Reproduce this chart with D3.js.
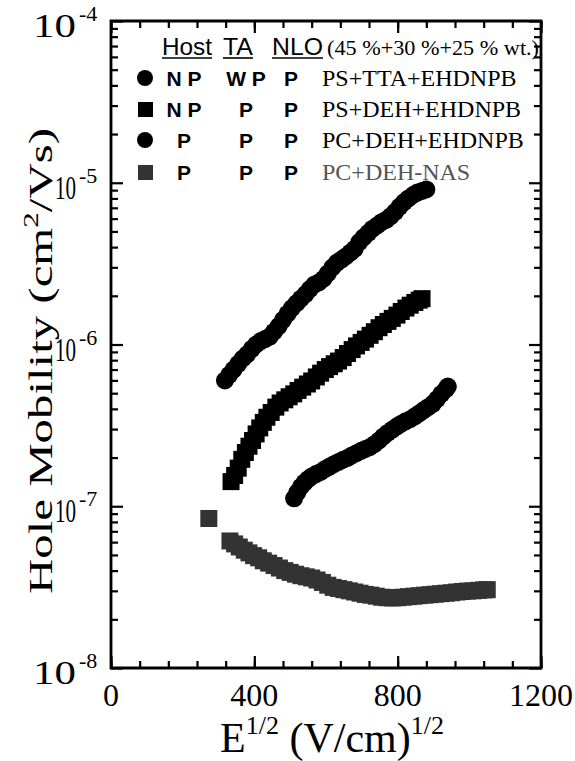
<!DOCTYPE html>
<html>
<head>
<meta charset="utf-8">
<script src="https://cdn.jsdelivr.net/npm/d3@7"></script>
<style>
  body { margin: 0; background: #fff; }
  svg { display: block; }
</style>
</head>
<body>
<div id="chart"></div>
<script>
// Set chart dimensions
const width = 575;
const height = 761;
const margin = { top: 21, right: 34, bottom: 93, left: 111 };
const innerW = width - margin.left - margin.right;
const innerH = height - margin.top - margin.bottom;
const serif = "Liberation Serif, Times New Roman, serif";
const sans = "Liberation Sans, Arial, sans-serif";

// PS+TTA+EHDNPB (circles)
const psTtaE = [318, 330, 342, 355, 368, 380, 393, 405, 418, 430, 443, 455, 468, 480, 493, 505, 518, 530, 543, 555,
  568, 580, 593, 605, 618, 630, 643, 655, 668, 680, 693, 705, 718, 730, 743, 755, 768, 780, 793, 805, 818, 830, 843, 855, 868, 880];
const psTtaMu = [6.0e-7, 6.5e-7, 7.0e-7, 7.6e-7, 8.2e-7, 8.7e-7, 9.4e-7, 1.0e-6, 1.05e-6, 1.08e-6, 1.12e-6, 1.2e-6, 1.3e-6, 1.42e-6, 1.55e-6, 1.68e-6, 1.8e-6, 1.92e-6, 2.05e-6, 2.2e-6,
  2.35e-6, 2.42e-6, 2.55e-6, 2.75e-6, 3.0e-6, 3.2e-6, 3.35e-6, 3.5e-6, 3.7e-6, 3.9e-6, 4.3e-6, 4.6e-6, 4.9e-6, 5.2e-6, 5.45e-6, 5.7e-6, 5.9e-6, 6.2e-6, 6.6e-6, 7.1e-6, 7.6e-6, 8.0e-6, 8.4e-6, 8.7e-6, 8.9e-6, 9.1e-6];

// PS+DEH+EHDNPB (squares)
const psDehE = [335, 345, 355, 365, 375, 385, 395, 405, 415, 425, 435, 447, 460, 472, 485, 497, 510, 522, 535, 548,
  560, 573, 585, 598, 610, 623, 635, 648, 660, 673, 685, 698, 710, 723, 735, 748, 760, 773, 785, 798, 810, 823, 835, 848, 860, 868];
const psDehMu = [1.42e-7, 1.55e-7, 1.72e-7, 1.95e-7, 2.15e-7, 2.35e-7, 2.55e-7, 2.8e-7, 3.05e-7, 3.3e-7, 3.55e-7, 3.8e-7, 4.1e-7, 4.35e-7, 4.55e-7, 4.75e-7, 4.95e-7, 5.2e-7, 5.45e-7, 5.7e-7,
  5.95e-7, 6.3e-7, 6.65e-7, 7.0e-7, 7.3e-7, 7.6e-7, 7.9e-7, 8.3e-7, 8.8e-7, 9.3e-7, 9.8e-7, 1.03e-6, 1.08e-6, 1.14e-6, 1.2e-6, 1.27e-6, 1.33e-6, 1.39e-6, 1.45e-6, 1.52e-6, 1.6e-6, 1.68e-6, 1.75e-6, 1.82e-6, 1.88e-6, 1.92e-6];

// PC+DEH+EHDNPB (circles)
const pcDehE = [511, 520, 530, 540, 550, 560, 572, 585, 598, 610, 622, 635, 648, 660, 672, 685, 698, 710, 722, 735,
  748, 760, 772, 785, 798, 810, 822, 835, 848, 860, 872, 885, 898, 910, 922, 935, 940];
const pcDehMu = [1.12e-7, 1.22e-7, 1.32e-7, 1.4e-7, 1.47e-7, 1.53e-7, 1.58e-7, 1.63e-7, 1.7e-7, 1.76e-7, 1.82e-7, 1.88e-7, 1.94e-7, 1.99e-7, 2.06e-7, 2.13e-7, 2.2e-7, 2.26e-7, 2.32e-7, 2.42e-7,
  2.55e-7, 2.7e-7, 2.84e-7, 2.98e-7, 3.12e-7, 3.24e-7, 3.35e-7, 3.45e-7, 3.6e-7, 3.75e-7, 3.92e-7, 4.1e-7, 4.3e-7, 4.6e-7, 4.95e-7, 5.3e-7, 5.5e-7];

// PC+DEH+NAS (grey squares)
const pcNasE = [273, 332, 345, 358, 372, 385, 398, 412, 425, 440, 455, 470, 485, 500, 515, 530, 545, 560, 575, 590,
  605, 620, 635, 650, 665, 680, 695, 710, 725, 740, 755, 770, 785, 800, 815, 830, 845, 860, 875, 890,
  905, 920, 935, 950, 965, 980, 995, 1010, 1025, 1040, 1050];
const pcNasMu = [8.4e-8, 6.1e-8, 5.85e-8, 5.6e-8, 5.35e-8, 5.15e-8, 4.95e-8, 4.8e-8, 4.6e-8, 4.45e-8, 4.3e-8, 4.15e-8, 4.0e-8, 3.9e-8, 3.8e-8, 3.72e-8, 3.66e-8, 3.6e-8, 3.5e-8, 3.38e-8,
  3.25e-8, 3.15e-8, 3.1e-8, 3.05e-8, 3.0e-8, 2.95e-8, 2.9e-8, 2.85e-8, 2.82e-8, 2.78e-8, 2.74e-8, 2.72e-8, 2.71e-8, 2.72e-8, 2.74e-8, 2.76e-8, 2.78e-8, 2.8e-8, 2.82e-8, 2.84e-8,
  2.86e-8, 2.88e-8, 2.9e-8, 2.92e-8, 2.95e-8, 2.97e-8, 2.99e-8, 3.0e-8, 3.02e-8, 3.04e-8, 3.05e-8];

// Tick labels
const xTickValues = [0, 400, 800, 1200];
const yTickExponents = [-8, -7, -6, -5, -4];

// Legend table
const legendHeaders = ["Host", "TA", "NLO"];
const legendNote = "(45 %+30 %+25 % wt.)";
const legendHost = ["N P", "N P", "P", "P"];
const legendTA = ["W P", "P", "P", "P"];
const legendNLO = ["P", "P", "P", "P"];
const legendNames = ["PS+TTA+EHDNPB", "PS+DEH+EHDNPB", "PC+DEH+EHDNPB", "PC+DEH-NAS"];
const legendShapes = ["circle", "square", "circle", "square"];

const svg = d3.select("#chart").append("svg")
    .attr("width", width)
    .attr("height", height)
    .attr("font-family", serif);

svg.append("rect").attr("width", width).attr("height", height).attr("fill", "#fff");

const g = svg.append("g").attr("transform", `translate(${margin.left},${margin.top})`);

// Scales
const x = d3.scaleLinear().domain([0, 1200]).range([0, innerW]);
const y = d3.scaleLog().domain([1e-8, 1e-4]).range([innerH, 0]);

// Tick positions
const xMinor = d3.range(0, 1201, 80);
const yMinor = [];
[-8, -7, -6, -5].forEach(e => { for (let k = 2; k <= 9; k++) yMinor.push(k * Math.pow(10, e)); });
const yMajor = yTickExponents.map(e => Math.pow(10, e));

// Axes, ticks pointing inward on all four sides
function drawAxis(axis, transform) {
    const a = g.append("g").attr("transform", transform).call(axis);
    a.select(".domain").remove();
    a.selectAll(".tick line").attr("stroke", "#000").attr("stroke-width", 2.2);
    a.selectAll(".tick text").remove();
}
drawAxis(d3.axisBottom(x).tickValues(xMinor).tickSize(-7), `translate(0,${innerH})`);
drawAxis(d3.axisBottom(x).tickValues(xTickValues).tickSize(-12), `translate(0,${innerH})`);
drawAxis(d3.axisTop(x).tickValues(xMinor).tickSize(-7), "translate(0,0)");
drawAxis(d3.axisTop(x).tickValues(xTickValues).tickSize(-12), "translate(0,0)");
drawAxis(d3.axisLeft(y).tickValues(yMinor).tickSize(-7), "translate(0,0)");
drawAxis(d3.axisLeft(y).tickValues(yMajor).tickSize(-12), "translate(0,0)");
drawAxis(d3.axisRight(y).tickValues(yMinor).tickSize(-7), `translate(${innerW},0)`);
drawAxis(d3.axisRight(y).tickValues(yMajor).tickSize(-12), `translate(${innerW},0)`);

// Frame
g.append("path")
    .attr("d", `M0,0H${innerW}V${innerH}H0Z`)
    .attr("fill", "none")
    .attr("stroke", "#000")
    .attr("stroke-width", 2.8);

// X tick labels
g.selectAll(".xlab").data(xTickValues).enter().append("text")
    .attr("class", "xlab")
    .attr("x", d => x(d))
    .attr("y", innerH + 38)
    .attr("text-anchor", "middle")
    .attr("font-size", 32)
    .text(d => d);

// Y tick labels as 10^n (the inner ones are squeezed beside the axis title)
const yl = g.selectAll(".ylab").data(yTickExponents).enter().append("g")
    .attr("class", "ylab")
    .attr("transform", d => `translate(0,${y(Math.pow(10, d))})`);
yl.append("text")
    .attr("transform", d => (d === -4 || d === -8)
        ? "translate(-78,16) scale(1.26,1)"
        : "translate(-56,16) scale(0.62,1)")
    .attr("font-size", 34)
    .text("10");
yl.append("text")
    .attr("x", -32).attr("y", 0)
    .attr("font-size", 22)
    .text(d => "-" + Math.abs(d));

// Axis titles
const xt = svg.append("text")
    .attr("x", 332).attr("y", 752)
    .attr("text-anchor", "middle")
    .attr("font-size", 42);
xt.append("tspan").text("E");
xt.append("tspan").attr("font-size", 26).attr("dy", -18).text("1/2");
xt.append("tspan").attr("dy", 18).text(" (V/cm)");
xt.append("tspan").attr("font-size", 26).attr("dy", -18).text("1/2");

const yt = svg.append("text")
    .attr("transform", "translate(52,361) rotate(-90)")
    .attr("text-anchor", "middle")
    .attr("font-size", 33)
    .attr("textLength", 466).attr("lengthAdjust", "spacingAndGlyphs");
yt.append("tspan").text("Hole Mobility (cm");
yt.append("tspan").attr("font-size", 21).attr("dy", -14).text("2");
yt.append("tspan").attr("dy", 14).text("/Vs)");

// Data markers
const circleR = 9;
const sq = 17;
const series = [
    { E: pcNasE, mu: pcNasMu, shape: "square", fill: "#333" },
    { E: pcDehE, mu: pcDehMu, shape: "circle", fill: "#000" },
    { E: psDehE, mu: psDehMu, shape: "square", fill: "#000" },
    { E: psTtaE, mu: psTtaMu, shape: "circle", fill: "#000" }
];
series.forEach(s => {
    const pts = s.E.map((e, i) => [e, s.mu[i]]);
    const layer = g.append("g");
    if (s.shape === "circle") {
        layer.selectAll("circle").data(pts).enter().append("circle")
            .attr("cx", d => x(d[0])).attr("cy", d => y(d[1]))
            .attr("r", circleR).attr("fill", s.fill);
    } else {
        layer.selectAll("rect").data(pts).enter().append("rect")
            .attr("x", d => x(d[0]) - sq / 2).attr("y", d => y(d[1]) - sq / 2)
            .attr("width", sq).attr("height", sq).attr("fill", s.fill);
    }
});

// Legend
const headerX = [162, 223, 272];
const headerW = [50, 30, 51];
legendHeaders.forEach((h, i) => {
    svg.append("text")
        .attr("x", headerX[i]).attr("y", 55)
        .attr("font-family", sans)
        .attr("font-size", 24)
        .attr("textLength", headerW[i]).attr("lengthAdjust", "spacingAndGlyphs")
        .text(h);
    svg.append("line")
        .attr("x1", headerX[i]).attr("x2", headerX[i] + headerW[i])
        .attr("y1", 58).attr("y2", 58)
        .attr("stroke", "#000").attr("stroke-width", 1.6);
});
svg.append("text")
    .attr("x", 327).attr("y", 55)
    .attr("font-size", 20)
    .attr("textLength", 212).attr("lengthAdjust", "spacingAndGlyphs")
    .text(legendNote);

const rowY = [86, 117, 148, 180];
legendNames.forEach((name, i) => {
    const by = rowY[i];
    if (legendShapes[i] === "circle") {
        svg.append("circle").attr("cx", 145).attr("cy", by - 8).attr("r", 8).attr("fill", "#000");
    } else {
        svg.append("rect").attr("x", 138).attr("y", by - 15).attr("width", 15).attr("height", 15)
            .attr("fill", i === 3 ? "#333" : "#000");
    }
    const bold = sel => sel.attr("font-family", sans)
        .attr("font-weight", "bold").attr("font-size", 21).attr("text-anchor", "middle");
    svg.append("text").attr("x", 184).attr("y", by).call(bold).text(legendHost[i]);
    svg.append("text").attr("x", 246).attr("y", by).call(bold).text(legendTA[i]);
    svg.append("text").attr("x", 291).attr("y", by).call(bold).text(legendNLO[i]);
    svg.append("text")
        .attr("x", 322).attr("y", by)
        .attr("font-size", 24)
        .attr("fill", i === 3 ? "#555" : "#000")
        .text(name);
});
</script>
</body>
</html>
